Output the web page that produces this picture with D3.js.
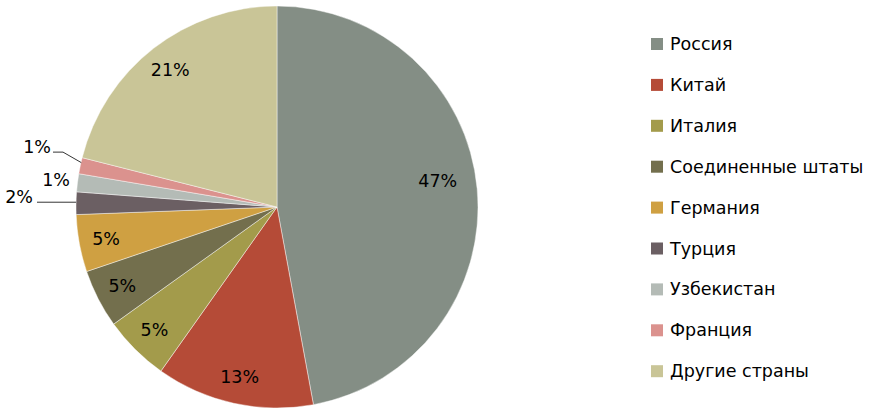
<!DOCTYPE html>
<html><head><meta charset="utf-8">
<script src="https://cdn.jsdelivr.net/npm/d3@7"></script>
<style>html,body{margin:0;padding:0;background:#fff;}</style>
</head><body>
<svg id="c" width="871" height="413"></svg>
<script>
const categories = ["Россия","Китай","Италия","Соединенные штаты","Германия","Турция","Узбекистан","Франция","Другие страны"];
const values = [47.1, 12.7, 5.3, 4.7, 4.6, 1.8, 1.45, 1.3, 21.05];
const colors = ["#848E85","#B54B37","#A39B4B","#736F4D","#CFA042","#6B5F63","#B4BBB6","#DB928E","#C9C597"];

const W = 871, H = 413;
const cx = 277, cy = 207, R = 201;
const font = "'DejaVu Sans', sans-serif";
const svg = d3.select("#c");
const total = d3.sum(values);
const data = categories.map((c,i)=>({name:c, value:values[i], color:colors[i], i}));

const pie = d3.pie().sort(null).value(d=>d.value);
const arcs = pie(data);
const arc = d3.arc().innerRadius(0).outerRadius(R);

const g = svg.append("g").attr("transform", `translate(${cx},${cy})`);
g.selectAll("path").data(arcs).join("path")
  .attr("d", arc).attr("fill", d=>d.data.color)
  .attr("stroke", "rgba(255,255,255,0.55)").attr("stroke-width", 0.8);

const pct = d => Math.round(d.data.value/total*100) + "%";
const fs = 17.5;
// inside labels
const inside = arcs.filter(d => (d.endAngle - d.startAngle) > 0.2);
const labelArc = d3.arc().innerRadius(R*0.865).outerRadius(R*0.865);
g.selectAll("text.in").data(inside).join("text")
  .attr("class","in")
  .attr("transform", d => {
    let [x,y] = labelArc.centroid(d);
    if (d.index === 0) { const a = (d.startAngle+d.endAngle)/2 - 0.07, r = R*0.81; x = r*Math.sin(a); y = -r*Math.cos(a); }
    return `translate(${x},${y})`;
  })
  .attr("text-anchor","middle").attr("dominant-baseline","central")
  .attr("font-family", font).attr("font-size", fs).attr("fill","#000")
  .text(pct);

// outside labels for small slices
const small = arcs.filter(d => (d.endAngle - d.startAngle) <= 0.2);
small.forEach(d => {
  const a = (d.startAngle+d.endAngle)/2;
  const ex = R*Math.sin(a), ey = -R*Math.cos(a);
  let tx, ty, line = null;
  if (d.data.name === "Турция") {
    tx = -R - 57; ty = ey - 6;
    line = [[ex, ey - 1], [-R - 39, ey - 1]];
  } else if (d.data.name === "Узбекистан") {
    tx = -R - 20; ty = ey - 3;
  } else {
    tx = -R - 39; ty = ey - 19;
    line = [[ex + 1, ey - 3], [-R - 13, ey - 13.5], [-R - 23, ey - 13.5]];
  }
  if (line) g.append("path").attr("d", d3.line()(line)).attr("fill","none").attr("stroke","#000").attr("stroke-width",0.8);
  g.append("text").attr("x", tx).attr("y", ty)
    .attr("text-anchor","middle").attr("dominant-baseline","central")
    .attr("font-family", font).attr("font-size", fs).attr("fill","#000").text(pct(d));
});

// legend
const leg = svg.append("g").attr("transform","translate(651,44)");
const rowH = 40.9;
const items = leg.selectAll("g").data(data).join("g")
  .attr("transform", (d,i)=>`translate(0,${i*rowH})`);
items.append("rect").attr("x",0).attr("y",-6).attr("width",12).attr("height",12).attr("fill", d=>d.color);
items.append("text").attr("x",19).attr("y",0).attr("dominant-baseline","central")
  .attr("font-family", font).attr("font-size", fs).attr("fill","#000").text(d=>d.name);
</script>
</body></html>
